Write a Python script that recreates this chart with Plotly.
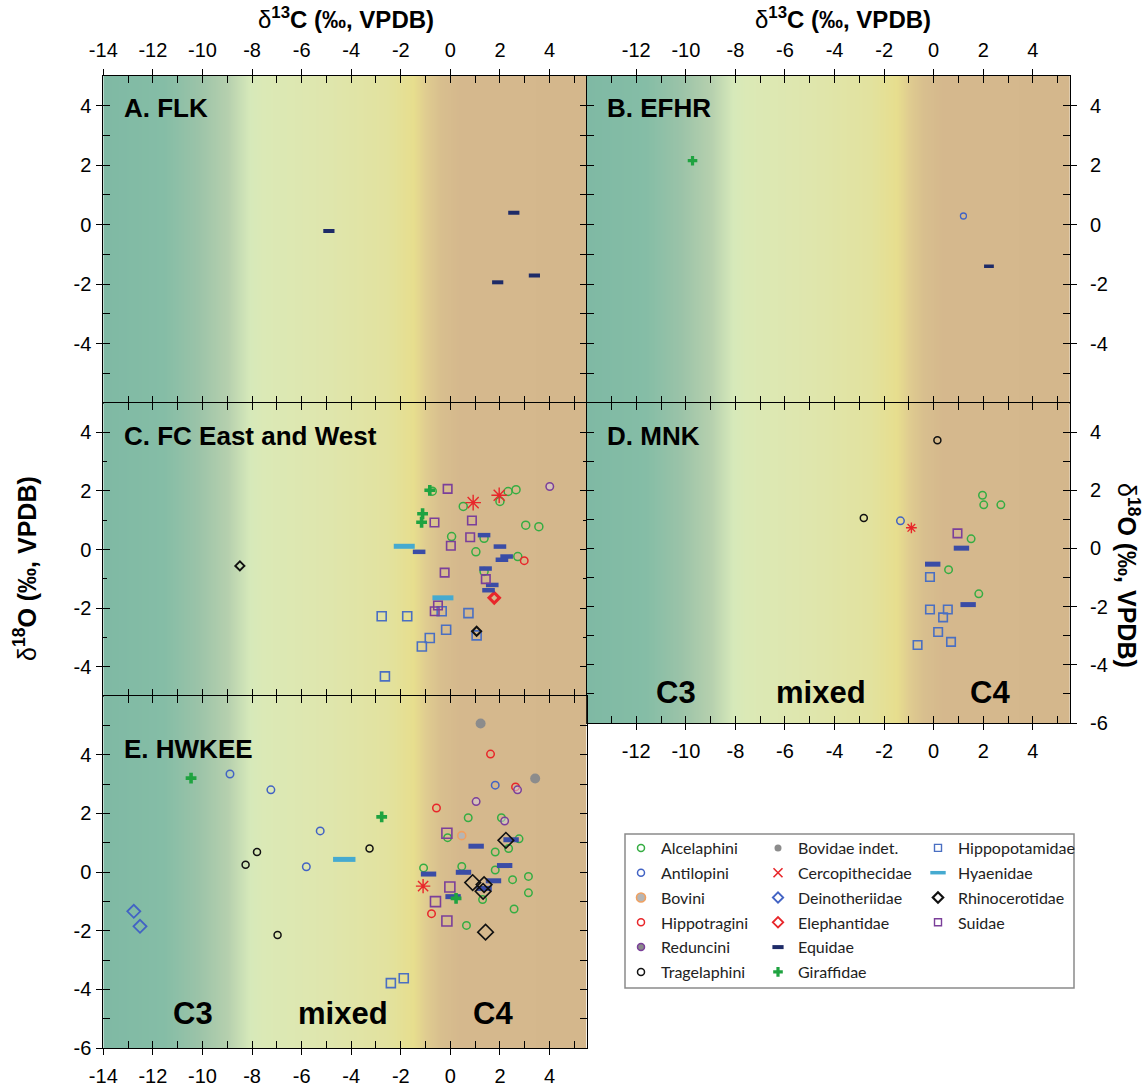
import plotly.graph_objects as go

W, H = 1146, 1086

# ---------------- data: d13C (x) and d18O (y), permil VPDB ----------------
# A. FLK
FLK_Equidae_C = [-4.9, 2.56, 1.91, 3.39]
FLK_Equidae_O = [-0.21, 0.40, -1.94, -1.71]

# B. EFHR
EFHR_Giraffidae_C = [-9.73]
EFHR_Giraffidae_O = [2.15]
EFHR_Antilopini_C = [1.2]
EFHR_Antilopini_O = [0.29]
EFHR_Equidae_C = [2.23]
EFHR_Equidae_O = [-1.40]

# C. FC East and West
FC_Alcelaphini_C = [-0.73, 0.52, 2.0, 2.33, 2.65, 3.04, 3.57, 0.05, 1.36, 1.03, 2.72, 1.36]
FC_Alcelaphini_O = [1.99, 1.47, 1.64, 1.98, 2.04, 0.83, 0.78, 0.44, 0.38, -0.08, -0.24, -0.75]
FC_Hippotragini_C = [2.98]
FC_Hippotragini_O = [-0.38]
FC_Reduncini_C = [4.01]
FC_Reduncini_O = [2.15]
FC_Cercopithecidae_C = [0.92, 1.97]
FC_Cercopithecidae_O = [1.6, 1.85]
FC_Elephantidae_C = [1.77]
FC_Elephantidae_O = [-1.65]
FC_Equidae_C = [-1.26, 1.36, 2.0, 2.27, 2.08, 1.42, 1.69, 1.54]
FC_Equidae_O = [-0.08, 0.49, 0.1, -0.24, -0.35, -0.65, -1.21, -1.39]
FC_Giraffidae_C = [-0.83, -1.12, -1.16]
FC_Giraffidae_O = [2.02, 1.22, 0.93]
FC_Hippopotamidae_C = [-2.77, -1.74, -0.35, 0.73, -0.17, -0.83, -1.15, 1.06, -2.64]
FC_Hippopotamidae_O = [-2.28, -2.28, -2.11, -2.17, -2.74, -3.02, -3.31, -2.93, -4.33]
FC_Hyaenidae_C = [-1.86, -0.3]
FC_Hyaenidae_O = [0.11, -1.65]
FC_Rhinocerotidae_C = [-8.49, 1.06]
FC_Rhinocerotidae_O = [-0.56, -2.79]
FC_Suidae_C = [-0.11, -0.64, 0.87, 0.8, 0.02, -0.23, 1.43, -0.5, -0.63]
FC_Suidae_O = [2.07, 0.92, 0.99, 0.42, 0.13, -0.79, -1.01, -1.91, -2.11]

# D. MNK
MNK_Alcelaphini_C = [1.97, 2.02, 1.51, 0.6, 1.82, 2.71]
MNK_Alcelaphini_O = [1.83, 1.5, 0.33, -0.73, -1.56, 1.5]
MNK_Antilopini_C = [-1.34]
MNK_Antilopini_O = [0.95]
MNK_Tragelaphini_C = [0.15, -2.82]
MNK_Tragelaphini_O = [3.72, 1.05]
MNK_Cercopithecidae_C = [-0.9]
MNK_Cercopithecidae_O = [0.71]
MNK_Equidae_C = [1.12, -0.04, 1.39]
MNK_Equidae_O = [0.01, -0.54, -1.93]
MNK_Hippopotamidae_C = [-0.15, -0.15, 0.57, 0.38, 0.18, 0.7, -0.65]
MNK_Hippopotamidae_O = [-0.98, -2.1, -2.1, -2.37, -2.87, -3.21, -3.32]
MNK_Suidae_C = [0.96]
MNK_Suidae_O = [0.52]

# E. HWKEE
HWKEE_Alcelaphini_C = [0.72, 2.06, -0.11, 2.77, 2.35, 1.81, -1.08, 0.46, 1.81, 2.51, 3.15, 3.15, 1.3, 2.57, 0.65]
HWKEE_Alcelaphini_O = [1.85, 1.85, 1.17, 1.13, 0.8, 0.68, 0.14, 0.19, 0.07, -0.26, -0.15, -0.71, -0.94, -1.26, -1.82]
HWKEE_Antilopini_C = [1.81, -8.89, -7.24, -5.25, -5.81]
HWKEE_Antilopini_O = [2.96, 3.34, 2.8, 1.4, 0.18]
HWKEE_Bovini_C = [0.46]
HWKEE_Bovini_O = [1.24]
HWKEE_Hippotragini_C = [1.62, 2.63, -0.56, -0.76]
HWKEE_Hippotragini_O = [4.02, 2.9, 2.18, -1.42]
HWKEE_Reduncini_C = [2.71, 1.04, 2.19]
HWKEE_Reduncini_O = [2.8, 2.4, 1.74]
HWKEE_Tragelaphini_C = [-7.8, -8.26, -3.26, -6.97]
HWKEE_Tragelaphini_O = [0.68, 0.25, 0.8, -2.15]
HWKEE_BovidaeIndet_C = [1.22, 3.42]
HWKEE_BovidaeIndet_O = [5.06, 3.19]
HWKEE_Cercopithecidae_C = [-1.1]
HWKEE_Cercopithecidae_O = [-0.48]
HWKEE_Deinotheriidae_C = [-12.77, -12.52]
HWKEE_Deinotheriidae_O = [-1.34, -1.85]
HWKEE_Equidae_C = [1.04, 2.19, -0.88, 0.53, 1.74, 0.11, 1.36, 2.45]
HWKEE_Equidae_O = [0.88, 0.22, -0.07, -0.01, -0.3, -0.84, -0.56, 1.1]
HWKEE_Giraffidae_C = [-10.46, -2.77, 0.23]
HWKEE_Giraffidae_O = [3.2, 1.88, -0.9]
HWKEE_Hippopotamidae_C = [-2.4, -1.88]
HWKEE_Hippopotamidae_O = [-3.79, -3.62]
HWKEE_Hyaenidae_C = [-4.28]
HWKEE_Hyaenidae_O = [0.43]
HWKEE_Rhinocerotidae_C = [2.24, 0.9, 1.36, 1.32, 1.42]
HWKEE_Rhinocerotidae_O = [1.08, -0.36, -0.43, -0.66, -2.05]
HWKEE_Suidae_C = [-0.14, -0.02, -0.6, -0.14]
HWKEE_Suidae_O = [1.32, -0.51, -1.01, -1.67]

# tick labels
X_TICKS_FULL = [-14, -12, -10, -8, -6, -4, -2, 0, 2, 4]
X_TICKS_RIGHT = [-12, -10, -8, -6, -4, -2, 0, 2, 4]
Y_TICKS_UPPER = [4, 2, 0, -2, -4]
Y_TICKS_LOWER = [4, 2, 0, -2, -4, -6]

PANEL_TITLES = ["A. FLK", "B. EFHR", "C. FC East and West", "D. MNK", "E. HWKEE"]
ZONE_LABELS = ["C3", "mixed", "C4"]

LEGEND_COLUMNS = [
    ["Alcelaphini", "Antilopini", "Bovini", "Hippotragini", "Reduncini", "Tragelaphini"],
    ["Bovidae indet.", "Cercopithecidae", "Deinotheriidae", "Elephantidae", "Equidae", "Giraffidae"],
    ["Hippopotamidae", "Hyaenidae", "Rhinocerotidae", "Suidae"],
]

# ---------------- registry (panel index, group, x, y) ----------------
DATA = [
    (1, "Equidae", FLK_Equidae_C, FLK_Equidae_O),
    (2, "Antilopini", EFHR_Antilopini_C, EFHR_Antilopini_O),
    (2, "Equidae", EFHR_Equidae_C, EFHR_Equidae_O),
    (2, "Giraffidae", EFHR_Giraffidae_C, EFHR_Giraffidae_O),
    (3, "Alcelaphini", FC_Alcelaphini_C, FC_Alcelaphini_O),
    (3, "Hippotragini", FC_Hippotragini_C, FC_Hippotragini_O),
    (3, "Reduncini", FC_Reduncini_C, FC_Reduncini_O),
    (3, "Cercopithecidae", FC_Cercopithecidae_C, FC_Cercopithecidae_O),
    (3, "Elephantidae", FC_Elephantidae_C, FC_Elephantidae_O),
    (3, "Equidae", FC_Equidae_C, FC_Equidae_O),
    (3, "Giraffidae", FC_Giraffidae_C, FC_Giraffidae_O),
    (3, "Hippopotamidae", FC_Hippopotamidae_C, FC_Hippopotamidae_O),
    (3, "Hyaenidae", FC_Hyaenidae_C, FC_Hyaenidae_O),
    (3, "Rhinocerotidae", FC_Rhinocerotidae_C, FC_Rhinocerotidae_O),
    (3, "Suidae", FC_Suidae_C, FC_Suidae_O),
    (4, "Alcelaphini", MNK_Alcelaphini_C, MNK_Alcelaphini_O),
    (4, "Antilopini", MNK_Antilopini_C, MNK_Antilopini_O),
    (4, "Tragelaphini", MNK_Tragelaphini_C, MNK_Tragelaphini_O),
    (4, "Cercopithecidae", MNK_Cercopithecidae_C, MNK_Cercopithecidae_O),
    (4, "Equidae", MNK_Equidae_C, MNK_Equidae_O),
    (4, "Hippopotamidae", MNK_Hippopotamidae_C, MNK_Hippopotamidae_O),
    (4, "Suidae", MNK_Suidae_C, MNK_Suidae_O),
    (5, "Alcelaphini", HWKEE_Alcelaphini_C, HWKEE_Alcelaphini_O),
    (5, "Antilopini", HWKEE_Antilopini_C, HWKEE_Antilopini_O),
    (5, "Bovini", HWKEE_Bovini_C, HWKEE_Bovini_O),
    (5, "Hippotragini", HWKEE_Hippotragini_C, HWKEE_Hippotragini_O),
    (5, "Reduncini", HWKEE_Reduncini_C, HWKEE_Reduncini_O),
    (5, "Tragelaphini", HWKEE_Tragelaphini_C, HWKEE_Tragelaphini_O),
    (5, "Bovidae indet.", HWKEE_BovidaeIndet_C, HWKEE_BovidaeIndet_O),
    (5, "Cercopithecidae", HWKEE_Cercopithecidae_C, HWKEE_Cercopithecidae_O),
    (5, "Deinotheriidae", HWKEE_Deinotheriidae_C, HWKEE_Deinotheriidae_O),
    (5, "Equidae", HWKEE_Equidae_C, HWKEE_Equidae_O),
    (5, "Giraffidae", HWKEE_Giraffidae_C, HWKEE_Giraffidae_O),
    (5, "Hippopotamidae", HWKEE_Hippopotamidae_C, HWKEE_Hippopotamidae_O),
    (5, "Hyaenidae", HWKEE_Hyaenidae_C, HWKEE_Hyaenidae_O),
    (5, "Rhinocerotidae", HWKEE_Rhinocerotidae_C, HWKEE_Rhinocerotidae_O),
    (5, "Suidae", HWKEE_Suidae_C, HWKEE_Suidae_O),
]

# ---------------- styles ----------------
GREEN = "#35ad42"
BLUE = "#4263c4"
RED = "#e8262a"
PURPLE = "#7b3f9a"
BLACK = "#111111"
GRAY = "#8c8c8c"
ORANGE = "#f0a060"
NAVY = "#1e2b68"
EQ_BLUE = "#3a4ca6"
GIR_GREEN = "#1fa340"
HIP_BLUE = "#4a6fc2"
CYAN = "#45aad0"

STYLE = {
    "Alcelaphini": dict(symbol="circle-open", color=GREEN, lw=1.5, size=7.5),
    "Antilopini": dict(symbol="circle-open", color=BLUE, lw=1.5, size=7.5),
    "Bovini": dict(symbol="circle", color="#b5b5b5", line=ORANGE, lw=1.6, size=8),
    "Hippotragini": dict(symbol="circle-open", color=RED, lw=1.5, size=7.5),
    "Reduncini": dict(symbol="circle", color="rgba(215,205,220,0.55)", line=PURPLE, lw=1.5, size=7.5),
    "Tragelaphini": dict(symbol="circle-open", color=BLACK, lw=1.5, size=7),
    "Bovidae indet.": dict(symbol="circle", color=GRAY, lw=0, size=10),
    "Cercopithecidae": dict(symbol="asterisk-open", color=RED, lw=1.4, size=12),
    "Deinotheriidae": dict(symbol="diamond-open", color=BLUE, lw=1.8, size=10),
    "Elephantidae": dict(symbol="diamond-open", color=RED, lw=3, size=8),
    "Equidae": dict(symbol="line-ew-open", color=EQ_BLUE, lw=5, size=11),
    "Giraffidae": dict(symbol="cross", color=GIR_GREEN, lw=0, size=9),
    "Hippopotamidae": dict(symbol="square-open", color=HIP_BLUE, lw=1.6, size=9),
    "Hyaenidae": dict(symbol="line-ew-open", color=CYAN, lw=5, size=16),
    "Rhinocerotidae": dict(symbol="diamond-open", color=BLACK, lw=1.6, size=12),
    "Suidae": dict(symbol="square-open", color=PURPLE, lw=1.6, size=9),
}
# panel specific overrides
OVERRIDE = {
    (1, "Equidae"): dict(color=NAVY, size=8, lw=4),
    (2, "Equidae"): dict(color=NAVY, size=7, lw=3.5),
    (2, "Antilopini"): dict(size=6, lw=1.3),
    (2, "Giraffidae"): dict(size=8),
    (3, "Alcelaphini"): dict(size=8),
    (3, "Cercopithecidae"): dict(size=13),
    (3, "Equidae"): dict(size=9, lw=4.5),
    (3, "Hyaenidae"): dict(size=15),
    (3, "Rhinocerotidae"): dict(size=7, lw=2),
    (3, "Suidae"): dict(size=8.5),
    (4, "Cercopithecidae"): dict(size=9),
    (4, "Hippopotamidae"): dict(size=8.5),
    (4, "Suidae"): dict(size=8.5),
    (5, "Suidae"): dict(size=10),
}
LEGEND_STYLE = {
    "Alcelaphini": dict(size=7), "Antilopini": dict(size=7), "Bovini": dict(size=9),
    "Hippotragini": dict(size=7), "Reduncini": dict(size=7, color="#8a8a8a"),
    "Tragelaphini": dict(size=7), "Bovidae indet.": dict(size=7),
    "Cercopithecidae": dict(symbol="x-thin-open", size=9, lw=1.6),
    "Deinotheriidae": dict(size=8, lw=1.8), "Elephantidae": dict(size=8, lw=1.8),
    "Equidae": dict(color=NAVY, size=8, lw=4), "Giraffidae": dict(size=8),
    "Hippopotamidae": dict(size=7, lw=1.4), "Hyaenidae": dict(size=11, lw=3.5),
    "Rhinocerotidae": dict(size=8, lw=2.2), "Suidae": dict(size=7, lw=1.4),
}


def marker_for(st):
    return dict(symbol=st["symbol"], color=st["color"], size=st["size"],
                line=dict(width=st["lw"], color=st.get("line", st["color"])))


# background gradient (d13C position, colour)
GRAD = [(-15.0, "#7fb9a4"), (-14.0, "#7fb9a4"), (-11.6, "#85bda6"), (-10.2, "#9bc3a8"),
        (-9.0, "#b6d0ae"), (-8.1, "#d6e9ba"), (-7.6, "#dbe9b6"), (-5.0, "#dfe6ad"),
        (-2.6, "#e2e29f"), (-1.5, "#e7de8e"), (-1.0, "#e0cd90"), (-0.4, "#d8bf8e"),
        (0.4, "#d5b88d"), (6.5, "#d4b78c")]
GX = [g[0] for g in GRAD]
GMIN, GMAX = GX[0], GX[-1]
COLORSCALE = [[(g[0] - GMIN) / (GMAX - GMIN), g[1]] for g in GRAD]

XR = [-14, 5.5]
# name, axis index, x px extent, y px extent (top,bottom), y range
PANELS = [
    ("A", 1, (103.3, 586.7), (76, 403), (-6, 5)),
    ("B", 2, (586.7, 1070), (76, 403), (-6, 5)),
    ("C", 3, (103.3, 586.7), (403, 696), (-5, 5)),
    ("D", 4, (586.7, 1070), (403, 723), (-6, 5)),
    ("E", 5, (103.3, 586.7), (696, 1048), (-6, 6)),
]


def fx(px):
    return px / W


def fy(py):
    return 1 - py / H


def sfx(n):
    return "" if n == 1 else str(n)


TICKFONT = dict(family="Liberation Sans, Arial, sans-serif", size=20, color="black")
AX = dict(showgrid=False, zeroline=False, showline=True, linecolor="black", linewidth=1.3,
          mirror="allticks", ticks="inside", ticklen=7, tickwidth=1.2, tickcolor="black",
          dtick=2, tick0=0, showticklabels=False, fixedrange=True, automargin=False,
          minor=dict(ticks="inside", ticklen=4, dtick=1, tick0=0, tickcolor="black", tickwidth=1))

fig = go.Figure()
layout = dict(width=W, height=H, autosize=False,
              margin=dict(l=0, r=0, t=0, b=0, autoexpand=False),
              paper_bgcolor="white", plot_bgcolor="white", showlegend=True)

yr_of = {}
for name, n, (x0, x1), (yt, yb), yr in PANELS:
    s = sfx(n)
    yr_of[n] = yr
    layout["xaxis" + s] = dict(domain=[fx(x0), fx(x1)], anchor="y" + s, range=XR, **AX)
    layout["yaxis" + s] = dict(domain=[fy(yb), fy(yt)], anchor="x" + s, range=list(yr), **AX)
    fig.add_trace(go.Heatmap(x=GX, y=[yr[0] - 1, yr[1] + 1], z=[GX, GX], colorscale=COLORSCALE,
                             zmin=GMIN, zmax=GMAX, zsmooth="best", showscale=False,
                             hoverinfo="skip", xaxis="x" + s, yaxis="y" + s))

# labelled outer axes (outside ticks + labels) overlaid on the panels
LABEL_AXES = [
    ("x", 1, "top", X_TICKS_FULL),
    ("y", 1, "left", Y_TICKS_UPPER),
    ("x", 2, "top", X_TICKS_RIGHT),
    ("y", 2, "right", Y_TICKS_UPPER),
    ("y", 3, "left", Y_TICKS_UPPER),
    ("x", 4, "bottom", X_TICKS_RIGHT),
    ("y", 4, "right", Y_TICKS_LOWER),
    ("x", 5, "bottom", X_TICKS_FULL),
    ("y", 5, "left", Y_TICKS_LOWER),
]
STANDOFF = {"top": 4, "bottom": 4, "left": 1, "right": 9}
cnt = {"x": 6, "y": 6}
for kind, n, side, vals in LABEL_AXES:
    s = sfx(n)
    other = "y" if kind == "x" else "x"
    rng = XR if kind == "x" else list(yr_of[n])
    k = cnt[kind]
    layout[f"{kind}axis{k}"] = dict(
        overlaying=kind + s, anchor=other + s, side=side, range=rng,
        tickmode="array", tickvals=vals, ticktext=[str(v) for v in vals],
        ticks="outside", ticklen=6, tickwidth=1.2, tickcolor="black",
        showline=False, showgrid=False, zeroline=False, fixedrange=True, automargin=False,
        tickfont=TICKFONT, ticklabelstandoff=STANDOFF[side])
    # an empty trace so that the overlay axis gets drawn
    if kind == "x":
        fig.add_trace(go.Scatter(x=[None], y=[None], xaxis=f"x{k}", yaxis="y" + s,
                                 showlegend=False, hoverinfo="skip", mode="markers"))
    else:
        fig.add_trace(go.Scatter(x=[None], y=[None], xaxis="x" + s, yaxis=f"y{k}",
                                 showlegend=False, hoverinfo="skip", mode="markers"))
    cnt[kind] += 1

# data points
for n, grp, xs, ys in DATA:
    st = dict(STYLE[grp])
    st.update(OVERRIDE.get((n, grp), {}))
    s = sfx(n)
    fig.add_trace(go.Scatter(x=xs, y=ys, mode="markers", marker=marker_for(st),
                             name=grp, showlegend=False, xaxis="x" + s, yaxis="y" + s,
                             hovertemplate=grp + "<br>δ13C %{x}<br>δ18O %{y}<extra></extra>"))

# legend: three vertical legends
LEG_NAMES = ["legend", "legend2", "legend3"]
LEG_X = [621, 758, 918]
for ci, col in enumerate(LEGEND_COLUMNS):
    for grp in col:
        st = dict(STYLE[grp])
        st.update(LEGEND_STYLE.get(grp, {}))
        fig.add_trace(go.Scatter(x=[None], y=[None], mode="markers", marker=marker_for(st),
                                 name=grp, legend=LEG_NAMES[ci], legendgroup=grp,
                                 showlegend=True, xaxis="x", yaxis="y", hoverinfo="skip"))
    layout[LEG_NAMES[ci]] = dict(x=fx(LEG_X[ci]), y=fy(831), xanchor="left", yanchor="top",
                                 bgcolor="rgba(0,0,0,0)", borderwidth=0, traceorder="grouped",
                                 tracegroupgap=1, itemsizing="trace", itemclick=False,
                                 itemdoubleclick=False,
                                 font=dict(family="Lato, Carlito, sans-serif", size=16, color="#222222"))

shapes = [dict(type="rect", xref="paper", yref="paper", x0=fx(625), x1=fx(1074),
               y0=fy(988), y1=fy(834), line=dict(color="#8a8a8a", width=1.5),
               fillcolor="white", layer="below")]

# annotations
BOLD = "Liberation Sans, Arial, sans-serif"
ann = []
TITLE_POS = [(122, 108), (605, 108), (122, 436), (605, 436), (122, 749)]
for (px, py), t in zip(TITLE_POS, PANEL_TITLES):
    ann.append(dict(x=fx(px), y=fy(py), xref="paper", yref="paper", text=f"<b>{t}</b>",
                    showarrow=False, xanchor="left", yanchor="middle",
                    font=dict(family=BOLD, size=26, color="black")))
ZONE_POS = [[(676, 692), (821, 692), (990, 692)], [(193, 1014), (343, 1014), (493, 1014)]]
for row in ZONE_POS:
    for (px, py), t in zip(row, ZONE_LABELS):
        ann.append(dict(x=fx(px), y=fy(py), xref="paper", yref="paper", text=f"<b>{t}</b>",
                        showarrow=False, xanchor="center", yanchor="middle",
                        font=dict(family=BOLD, size=31, color="black")))
XT = "δ<b><sup>13</sup>C (‰, VPDB)</b>"
YT = "δ<b><sup>18</sup>O (‰, VPDB)</b>"
for px in (346, 843):
    ann.append(dict(x=fx(px), y=fy(18), xref="paper", yref="paper", text=XT, showarrow=False,
                    xanchor="center", yanchor="middle", font=dict(family=BOLD, size=24, color="black")))
ann.append(dict(x=fx(25), y=fy(569), xref="paper", yref="paper", text=YT, showarrow=False,
                textangle=-90, xanchor="center", yanchor="middle",
                font=dict(family=BOLD, size=25, color="black")))
ann.append(dict(x=fx(1128), y=fy(575), xref="paper", yref="paper", text=YT, showarrow=False,
                textangle=90, xanchor="center", yanchor="middle",
                font=dict(family=BOLD, size=25, color="black")))

layout["annotations"] = ann
layout["shapes"] = shapes
fig.update_layout(**layout)

fig.write_html("out.html", config={"displayModeBar": False, "responsive": False},
               post_script="document.body.style.margin='0px';")
